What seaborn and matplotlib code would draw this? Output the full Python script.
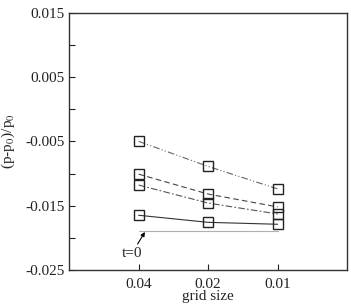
import numpy as np
import pandas as pd
import seaborn as sns
import matplotlib.pyplot as plt

grid_labels = ["0.04", "0.02", "0.01"]
xpos = [1, 2, 3]

s1 = [-0.0050, -0.0089, -0.0124]   # dash-dot-dot
s2 = [-0.0101, -0.0132, -0.0152]   # dashed
s3 = [-0.0118, -0.0146, -0.0163]   # dash-dot
s4 = [-0.0165, -0.0176, -0.0179]   # solid
t0 = -0.0189

sns.set_style("ticks")
plt.rcParams['font.family'] = ['Liberation Serif', 'DejaVu Serif']
plt.rcParams['mathtext.fontset'] = 'stix'

fig = plt.figure(figsize=(3.51, 3.06), dpi=100)
ax = fig.add_axes([0.197, 0.118, 0.792, 0.840])

styles = [(0, (6, 2, 1, 2, 1, 2)), (0, (5, 3)), (0, (6, 2, 1.5, 2)), "-"]
colors = ["#666666", "#444444", "#555555", "#333333"]
for vals, ls, c in zip([s1, s2, s3, s4], styles, colors):
    df = pd.DataFrame({"x": xpos, "y": vals})
    sns.lineplot(data=df, x="x", y="y", ax=ax, color=c, linewidth=0.8,
                 linestyle=ls, marker="s", markersize=6.5, markerfacecolor="none",
                 markeredgecolor="#222222", markeredgewidth=1.0)

ax.plot([xpos[0], xpos[-1]], [t0, t0], color="#b0b0b0", linewidth=0.8)
ax.annotate("t=0", xy=(1.09, t0 - 0.0002), xytext=(0.9, -0.0225),
            fontsize=11, ha="center", va="center",
            arrowprops=dict(arrowstyle="-|>", color="k", lw=0.8,
                            mutation_scale=6, shrinkA=0, shrinkB=0))

ax.set_xlim(0, 4)
ax.set_ylim(-0.025, 0.015)
ax.set_xticks(xpos)
ax.set_xticklabels(grid_labels)
ax.set_yticks([-0.025, -0.015, -0.005, 0.005, 0.015])
ax.set_yticklabels(["-0.025", "-0.015", "-0.005", "0.005", "0.015"])
ax.set_yticks([-0.02, -0.01, 0.0, 0.01], minor=True)
ax.tick_params(axis="both", which="both", direction="in", length=4, width=0.8,
               labelsize=11, colors="#222222")
ax.tick_params(axis="x", pad=6)
for sp in ax.spines.values():
    sp.set_linewidth(1.0)
    sp.set_color("#333333")

ax.set_xlabel("grid size", fontsize=11, labelpad=-1)
ax.set_ylabel("(p-p$_0$)/p$_0$", fontsize=11, labelpad=6)

fig.savefig("out.png", dpi=100)
